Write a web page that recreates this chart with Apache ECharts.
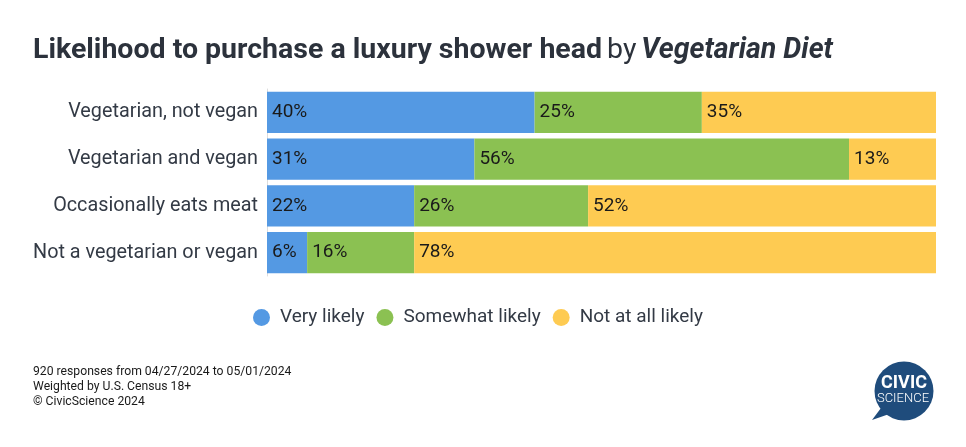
<!DOCTYPE html>
<html><head><meta charset="utf-8">
<script src="https://cdn.jsdelivr.net/npm/echarts@6/dist/echarts.min.js"></script>
<style>html,body{margin:0;padding:0;background:#fff}#c{width:966px;height:447px}</style>
</head><body><div id="c"></div>
<script>
const categories = ["Vegetarian, not vegan", "Vegetarian and vegan", "Occasionally eats meat", "Not a vegetarian or vegan"];
const seriesNames = ["Very likely", "Somewhat likely", "Not at all likely"];
const veryLikely = [40, 31, 22, 6];
const somewhatLikely = [25, 56, 26, 16];
const notAtAll = [35, 13, 52, 78];
const colors = ["#5499e3", "#8bc152", "#fecb52"];
const footnotes = ["920 responses from 04/27/2024 to 05/01/2024", "Weighted by U.S. Census 18+", "\u00a9 CivicScience 2024"];

const chart = echarts.init(document.getElementById('c'));
const lbl = {show: true, position: 'insideLeft', formatter: '{c}%', color: '#1a1a1a', fontSize: 19, fontFamily: 'Roboto', distance: 5};
const values = [veryLikely, somewhatLikely, notAtAll];
chart.setOption({
  animation: false,
  color: colors,
  title: {
    left: 28, top: 31,
    text: '{b|Likelihood to purchase a luxury shower head} {n|by} {i|Vegetarian Diet}',
    textStyle: {
      rich: {
        b: {fontFamily: 'Roboto', fontWeight: 'bold', fontSize: 28.5, color: '#2c323c'},
        n: {fontFamily: 'Roboto', fontWeight: 'normal', fontSize: 28.5, color: '#2c323c'},
        i: {fontFamily: 'Roboto', fontWeight: 'bold', fontStyle: 'italic', fontSize: 28.5, color: '#2c323c'}
      }
    }
  },
  legend: {
    data: seriesNames, left: 248, top: 303, icon: 'circle', itemWidth: 17, itemHeight: 17, itemGap: 12,
    textStyle: {fontFamily: 'Roboto', fontSize: 19, color: '#333a45', padding: [0, 0, 0, 5]}
  },
  grid: {left: 267, right: 30, top: 89, height: 187},
  xAxis: {type: 'value', min: 0, max: 100, show: false},
  yAxis: {
    type: 'category', data: categories, inverse: true,
    axisLine: {show: true, lineStyle: {color: '#dddddd'}},
    axisTick: {show: false},
    axisLabel: {fontFamily: 'Roboto', fontSize: 19.8, color: '#333a45', margin: 9}
  },
  series: seriesNames.map((n, i) => ({
    name: n, type: 'bar', stack: 'total', data: values[i], barCategoryGap: '12%',
    label: lbl
  })),
  graphic: [
    ...footnotes.map((t, i) => ({type: 'text', left: 33, top: 366 + i * 15, style: {text: t, font: '12.2px Roboto', fill: '#1a1a1a'}})),
    {type: 'polygon', shape: {points: [[884, 404], [872, 420], [895, 412]]}, style: {fill: '#1f4c7c'}},
    {type: 'circle', shape: {cx: 904, cy: 391, r: 29.5}, style: {fill: '#1f4c7c'}},
    {type: 'text', x: 904, y: 383, style: {text: 'CIVIC', font: 'bold 18px Roboto', fill: '#fff', align: 'center', verticalAlign: 'middle'}},
    {type: 'text', x: 903, y: 399, style: {text: 'SCIENCE', font: '300 13px Roboto', fill: '#fff', align: 'center', verticalAlign: 'middle'}}
  ]
});
</script></body></html>
